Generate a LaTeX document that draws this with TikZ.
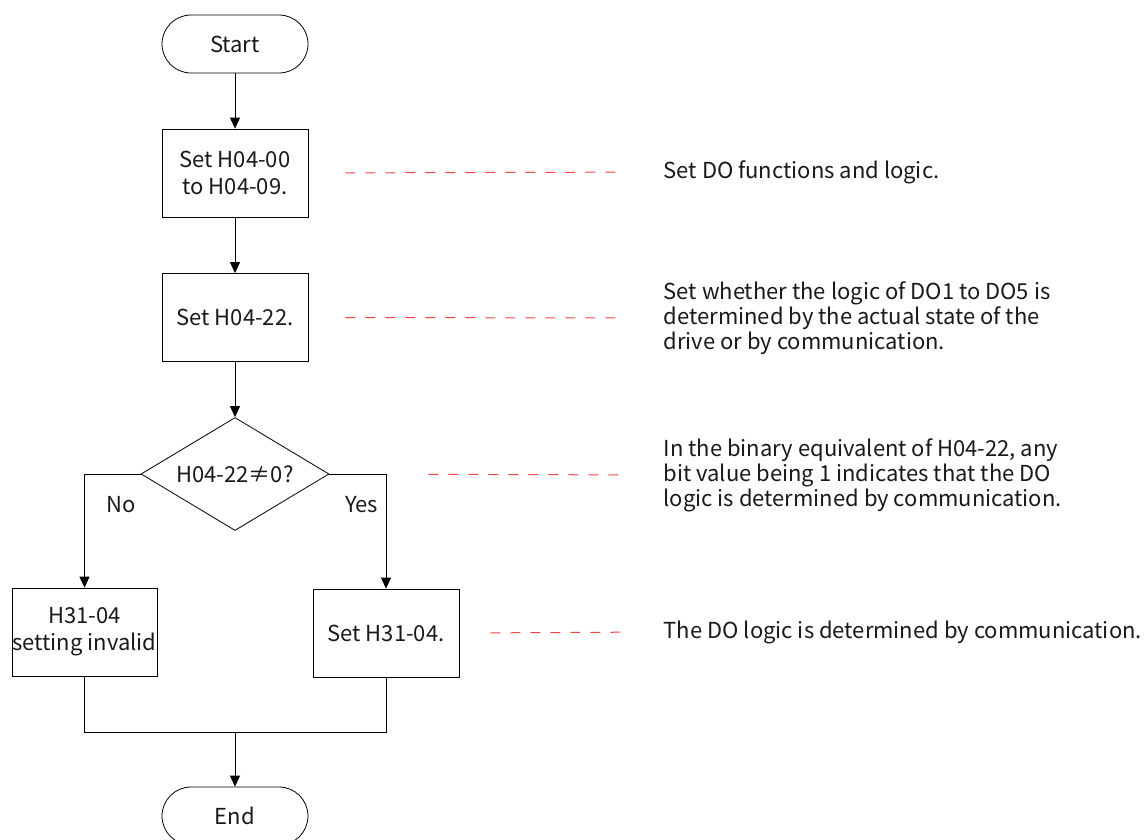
\documentclass[tikz,border=0pt]{standalone}
\usepackage{fontspec}
\setmainfont{Noto Sans CJK SC}
\usepackage{xcolor}
\definecolor{leadred}{RGB}{240,70,70}
\definecolor{ink}{RGB}{25,25,25}
\usetikzlibrary{arrows.meta,shapes.geometric,calc}

\begin{document}
\begin{tikzpicture}[x=1pt,y=-1pt,
  term/.style={draw,rounded corners=29pt,minimum width=146pt,minimum height=58pt},
  proc/.style={draw,minimum width=146pt,minimum height=88pt,align=center,inner xsep=0pt},
  ask/.style={draw,diamond,minimum width=188pt,minimum height=113pt,inner sep=0pt,aspect=1.66},
  note/.style={anchor=west,align=left,font=\fontsize{22}{25}\selectfont},
  lead/.style={leadred,dash pattern=on 10pt off 10pt,line width=1pt},
  arr/.style={-{Triangle[length=11pt,width=10pt]}},
  line width=0.8pt, text=ink,
  font=\fontsize{22}{27}\selectfont
]
  \useasboundingbox (0,0) rectangle (1147,839);
  % Flow
  \node[term] (start) at (235,44) {Start};
  \node[proc] (s1) at (235,173) {Set H04-00\\to H04-09.};
  \node[proc] (s2) at (235,317.5) {Set H04-22.};
  \node[ask] (q) at (235,474) {H04-22≠0?};
  \node[proc,minimum width=145pt] (inval) at (84.5,632) {H31-04\\setting invalid};
  \node[proc] (s3) at (386,633) {Set H31-04.};
  \node[term] (end) at (235,816) {End};
  \coordinate (join) at (235,732);

  \draw[arr] (start) -- (s1);
  \draw[arr] (s1) -- (s2);
  \draw[arr] (s2) -- (q);
  \draw[arr] (q.west) -| (inval.north) node[pos=0.635,right=18pt] {No};
  \draw[arr] (q.east) -| (s3.north) node[pos=0.635,left=4pt] {Yes};
  \draw (inval.south) |- (join) -| (s3.south);
  \draw[arr] (join) -- (end);

  % Notes
  \node[note] (n1) at (660,172) {Set DO functions and logic.};
  \node[note] (n2) at (660,318) {Set whether the logic of DO1 to DO5 is\\determined by the actual state of the\\drive or by communication.};
  \node[note] (n3) at (660,475) {In the binary equivalent of H04-22, any\\bit value being 1 indicates that the DO\\logic is determined by communication.};
  \node[note] (n4) at (660,632) {The DO logic is determined by communication.};

  % Leaders
  \draw[lead,shorten <=37pt,shorten >=39pt] (s1.east) -- (n1.west);
  \draw[lead,shorten <=37pt,shorten >=39pt] (s2.east) -- (n2.west);
  \draw[lead,shorten <=99pt,shorten >=39pt] (q.east) -- (n3.west);
  \draw[lead,shorten <=31pt,shorten >=39pt] (s3.east) -- (n4.west);
\end{tikzpicture}
\end{document}
